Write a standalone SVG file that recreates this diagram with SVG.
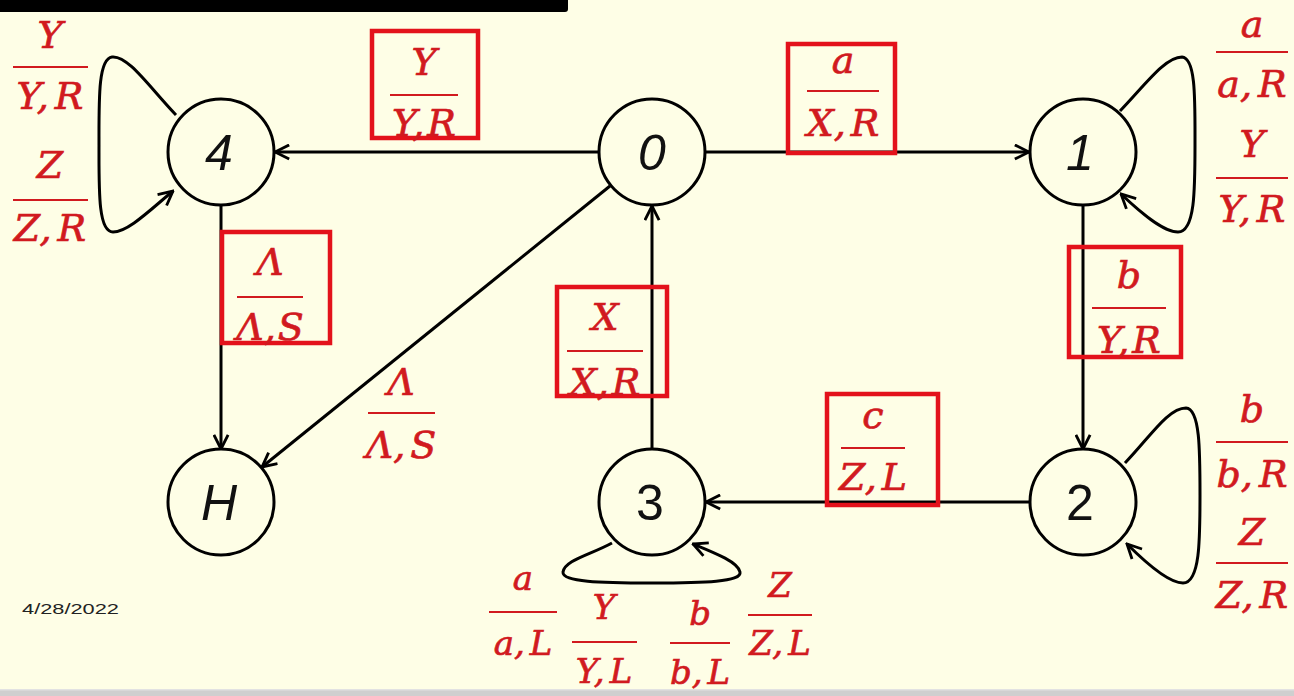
<svg xmlns="http://www.w3.org/2000/svg" width="1294" height="696" viewBox="0 0 1294 696">
<defs>
<style>
.node circle{fill:none;stroke:#000;stroke-width:3}
.node text{font-family:"Liberation Sans",Arial,sans-serif;font-size:50px;fill:#111;text-anchor:middle}
.it{font-style:italic}
.edge{fill:none;stroke:#000;stroke-width:3;marker-end:url(#arr)}
.lab text{font-family:"DejaVu Serif","Liberation Serif",serif;font-style:italic;font-size:38px;fill:#d11a1f;stroke:#d11a1f;stroke-width:0.7;text-anchor:middle}
.lab line{stroke:#d11a1f;stroke-width:1.8}
.sm text{font-size:34px}
.box{fill:none;stroke:#e3121b;stroke-width:4.5}
</style>
<marker id="arr" viewBox="0 0 12 12" refX="11" refY="6" markerWidth="17" markerHeight="17" markerUnits="userSpaceOnUse" orient="auto">
<path d="M1,1 L11,6 L1,11" fill="none" stroke="#000" stroke-width="2"/>
</marker>
</defs>
<rect x="0" y="0" width="1294" height="696" fill="#fefee6"/>
<rect x="-10" y="-3" width="578" height="15" rx="3" fill="#000"/>
<rect x="0" y="689" width="1294" height="7" fill="#cfcfcf"/>
<rect x="0" y="689" width="1294" height="1.5" fill="#e2e2e2"/>

<g id="connectors">
<path class="edge" d="M598,152 L275,152"/>
<path class="edge" d="M706,152 L1029,152"/>
<path class="edge" d="M1083,205 L1083,449"/>
<path class="edge" d="M1030,502 L706,502"/>
<path class="edge" d="M652,449 L652,206"/>
<path class="edge" d="M221,205 L221,449"/>
<path class="edge" d="M610,186 L262,467"/>
<path class="edge" d="M176,115 C150,88 128,55 112,57 C98,59 99,100 99,145 C99,190 98,232 113,232 C128,232 150,210 173,191"/>
<path class="edge" d="M1120,111 C1145,85 1165,57 1182,57 C1196,58 1195,100 1195,145 C1195,190 1195,232 1178,232 C1163,232 1140,212 1121,194"/>
<path class="edge" d="M1125,463 C1150,437 1168,408 1186,408 C1200,409 1200,450 1200,495 C1200,540 1200,583 1183,583 C1168,583 1145,562 1127,544"/>
<path class="edge" d="M612,543 C590,555 565,560 563,572 C562,582 600,583 652,583 C704,583 742,582 740,572 C738,562 715,553 693,544"/>
</g>

<g id="node-0" class="node"><circle cx="652" cy="152" r="53"/><text class="it" x="652" y="170">0</text></g>
<g id="node-1" class="node"><circle cx="1083" cy="152" r="53"/><text class="it" x="1080" y="170">1</text></g>
<g id="node-2" class="node"><circle cx="1083" cy="502" r="53"/><text x="1080" y="520">2</text></g>
<g id="node-3" class="node"><circle cx="652" cy="502" r="53"/><text x="650" y="520">3</text></g>
<g id="node-4" class="node"><circle cx="221" cy="152" r="53"/><text class="it" x="219" y="170">4</text></g>
<g id="node-H" class="node"><circle cx="221" cy="502" r="53"/><text class="it" x="219" y="520">H</text></g>

<g id="labels">
<rect class="box" x="372" y="31" width="106" height="107"/>
<rect class="box" x="788" y="44" width="107" height="109"/>
<rect class="box" x="222" y="232" width="108" height="111"/>
<rect class="box" x="557" y="287" width="110" height="109"/>
<rect class="box" x="827" y="394" width="111" height="111"/>
<rect class="box" x="1069" y="247" width="112" height="110"/>

<g class="lab" transform="translate(50,67)"><text y="-19">Y</text><line x1="-37" x2="38" y1="0" y2="0"/><text y="42">Y,<tspan dx="6">R</tspan></text></g>
<g class="lab" transform="translate(50,200)"><text y="-22">Z</text><line x1="-37" x2="38" y1="0" y2="0"/><text y="41">Z,<tspan dx="6">R</tspan></text></g>
<g class="lab" transform="translate(424,95)"><text y="-20">Y</text><line x1="-34" x2="34" y1="0" y2="0"/><text y="41">Y,<tspan dx="3">R</tspan></text></g>
<g class="lab" transform="translate(843,91)"><text y="-18">a</text><line x1="-36" x2="36" y1="0" y2="0"/><text y="45">X,<tspan dx="5">R</tspan></text></g>
<g class="lab" transform="translate(270,297)"><text y="-22">Λ</text><line x1="-33" x2="33" y1="0" y2="0"/><text y="43">Λ,<tspan dx="2">S</tspan></text></g>
<g class="lab" transform="translate(401,413)"><text y="-18">Λ</text><line x1="-33" x2="34" y1="0" y2="0"/><text y="45">Λ,<tspan dx="5">S</tspan></text></g>
<g class="lab" transform="translate(605,351)"><text y="-21">X</text><line x1="-38" x2="38" y1="0" y2="0"/><text y="44">X,<tspan dx="3">R</tspan></text></g>
<g class="lab" transform="translate(873,448)"><text y="-20">c</text><line x1="-32" x2="32" y1="0" y2="0"/><text y="42">Z,<tspan dx="5">L</tspan></text></g>
<g class="lab" transform="translate(1129,308)"><text y="-20">b</text><line x1="-37" x2="37" y1="0" y2="0"/><text y="45">Y,<tspan dx="3">R</tspan></text></g>
<g class="lab" transform="translate(1252,52)"><text y="-15">a</text><line x1="-36" x2="36" y1="0" y2="0"/><text y="45">a,<tspan dx="6">R</tspan></text></g>
<g class="lab" transform="translate(1252,178)"><text y="-21">Y</text><line x1="-36" x2="36" y1="0" y2="0"/><text y="44">Y,<tspan dx="6">R</tspan></text></g>
<g class="lab" transform="translate(1252,442)"><text y="-20">b</text><line x1="-36" x2="36" y1="0" y2="0"/><text y="45">b,<tspan dx="6">R</tspan></text></g>
<g class="lab" transform="translate(1252,563)"><text y="-18">Z</text><line x1="-36" x2="36" y1="0" y2="0"/><text y="45">Z,<tspan dx="6">R</tspan></text></g>
<g class="lab sm" transform="translate(523,612)"><text y="-22">a</text><line x1="-34" x2="34" y1="0" y2="0"/><text y="43">a,<tspan dx="5">L</tspan></text></g>
<g class="lab sm" transform="translate(604,642)"><text y="-23">Y</text><line x1="-32" x2="33" y1="0" y2="0"/><text y="41">Y,<tspan dx="5">L</tspan></text></g>
<g class="lab sm" transform="translate(700,643)"><text y="-18">b</text><line x1="-30" x2="30" y1="0" y2="0"/><text y="41">b,<tspan dx="5">L</tspan></text></g>
<g class="lab sm" transform="translate(780,615)"><text y="-18">Z</text><line x1="-32" x2="32" y1="0" y2="0"/><text y="40">Z,<tspan dx="5">L</tspan></text></g>
</g>

<text x="22" y="614" font-family="'Liberation Sans',Arial,sans-serif" font-size="15" fill="#222" textLength="97" lengthAdjust="spacingAndGlyphs">4/28/2022</text>
</svg>
